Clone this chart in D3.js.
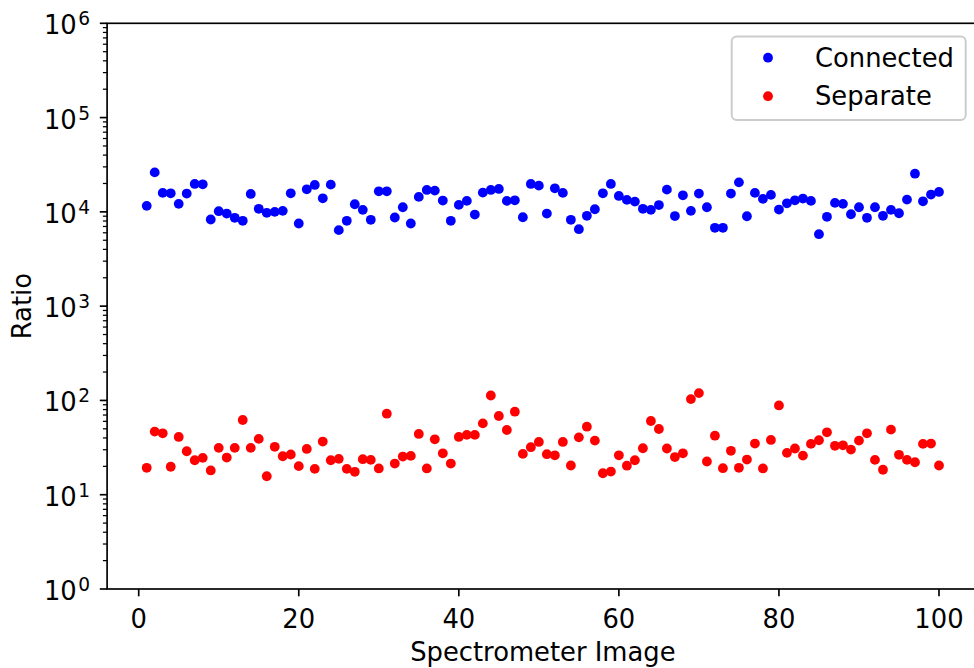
<!DOCTYPE html>
<html>
<head>
<meta charset="utf-8">
<script src="https://cdn.jsdelivr.net/npm/d3@7"></script>
<style>
  html, body { margin: 0; padding: 0; background: #fff; }
  svg { display: block; font-family: "DejaVu Sans", sans-serif; }
</style>
</head>
<body>
<svg id="chart" width="974" height="668"></svg>
<script>
// ---- data ----
const imageIndex = [1,2,3,4,5,6,7,8,9,10,11,12,13,14,15,16,17,18,19,20,
  21,22,23,24,25,26,27,28,29,30,31,32,33,34,35,36,37,38,39,40,
  41,42,43,44,45,46,47,48,49,50,51,52,53,54,55,56,57,58,59,60,
  61,62,63,64,65,66,67,68,69,70,71,72,73,74,75,76,77,78,79,80,
  81,82,83,84,85,86,87,88,89,90,91,92,93,94,95,96,97,98,99,100];

const connected = [11580, 26230, 15890, 15740, 12160, 15630, 19770, 19590, 8300, 10160,
  9600, 8650, 8040, 15500, 10770, 9770, 10000, 10250, 15730, 7530,
  17340, 19290, 13930, 19440, 6400, 8040, 12040, 10500, 8240, 16510,
  16510, 8710, 11190, 7530, 14410, 17090, 16800, 13180, 8040, 11860,
  13070, 9370, 16000, 17090, 17510, 13070, 13270, 8770, 19770, 18970,
  9600, 17780, 15890, 8240, 6550, 9080, 10660, 15730, 19770, 14760,
  13400, 12850, 10770, 10500, 11810, 17210, 9030, 14990, 10250, 15630,
  11190, 6780, 6780, 15630, 20560, 8990, 15890, 13730, 15140, 10580,
  12330, 13270, 13830, 13070, 5800, 8860, 12450, 12160, 9440, 11190,
  8650, 11190, 9080, 10500, 9670, 13490, 25400, 12940, 15250, 16280];

const separate = [19.3, 46.7, 44.8, 19.8, 41.0, 28.9, 23.2, 24.6, 18.1, 31.4,
  24.8, 31.4, 62.0, 31.4, 39.1, 15.7, 32.2, 25.6, 26.7, 20.1,
  30.6, 18.8, 36.6, 23.2, 24.0, 18.8, 17.5, 23.8, 23.4, 19.0,
  72.3, 21.4, 25.4, 25.8, 44.1, 19.0, 38.7, 27.5, 21.4, 41.0,
  43.1, 43.1, 57.1, 112.8, 68.4, 48.6, 75.9, 27.1, 31.9, 36.3,
  26.9, 26.2, 36.3, 20.4, 40.6, 52.7, 37.5, 16.9, 17.6, 26.2,
  20.3, 23.2, 31.1, 60.5, 49.8, 30.9, 25.1, 27.5, 103.3, 119.6,
  22.5, 42.3, 19.1, 29.2, 19.3, 23.6, 34.9, 19.0, 38.1, 88.5,
  27.8, 30.9, 26.0, 34.6, 37.8, 45.9, 33.0, 33.4, 30.1, 37.5,
  44.8, 23.4, 18.4, 49.0, 26.5, 23.4, 22.1, 34.6, 34.9, 20.4];

const seriesNames = ["Connected", "Separate"];
const seriesColors = ["#0000ff", "#ff0000"];
const xTickValues = [0, 20, 40, 60, 80, 100];
const yTickExponents = [0, 1, 2, 3, 4, 5, 6];
const xLabel = "Spectrometer Image";
const yLabel = "Ratio";

// ---- layout ----
const W = 974, H = 668;
const plot = { left: 107.1, right: 978.6, top: 23.3, bottom: 589 };
const FS = 25.8;

const svg = d3.select("#chart");

const x = d3.scaleLinear().domain([-3.95, 104.95]).range([plot.left, plot.right]);
const y = d3.scaleLog().domain([1, 1e6]).range([plot.bottom, plot.top]);

// ---- points ----
const series = [connected, separate];
series.forEach((vals, si) => {
  svg.append("g")
    .selectAll("circle")
    .data(vals.map((v, i) => ({ x: imageIndex[i], v })))
    .join("circle")
    .attr("cx", d => x(d.x))
    .attr("cy", d => y(d.v))
    .attr("r", 4.9)
    .attr("fill", seriesColors[si]);
});

// ---- spines ----
const spine = svg.append("g").attr("stroke", "#000").attr("stroke-width", 1.67).attr("fill", "none");
spine.append("rect")
  .attr("x", plot.left).attr("y", plot.top)
  .attr("width", plot.right - plot.left).attr("height", plot.bottom - plot.top)
  .attr("stroke-linejoin", "miter");

// ---- x axis ----
const xAxisG = svg.append("g");
xTickValues.forEach(t => {
  const px = x(t);
  xAxisG.append("line")
    .attr("x1", px).attr("x2", px)
    .attr("y1", plot.bottom).attr("y2", plot.bottom + 7.3)
    .attr("stroke", "#000").attr("stroke-width", 1.67);
  xAxisG.append("text")
    .attr("x", px).attr("y", plot.bottom + 39)
    .attr("text-anchor", "middle")
    .attr("font-size", FS)
    .attr("fill", "#000")
    .text(t);
});

// ---- y axis ----
const yAxisG = svg.append("g");
yTickExponents.forEach(e => {
  const py = y(Math.pow(10, e));
  yAxisG.append("line")
    .attr("x1", plot.left - 7.3).attr("x2", plot.left)
    .attr("y1", py).attr("y2", py)
    .attr("stroke", "#000").attr("stroke-width", 1.67);
  const t = yAxisG.append("text")
    .attr("x", plot.left - 17).attr("y", py + 11)
    .attr("text-anchor", "end")
    .attr("font-size", FS)
    .attr("fill", "#000");
  t.append("tspan").text("10");
  t.append("tspan").attr("font-size", FS * 0.72).attr("dy", -9).attr("dx", 1.5).text(e);
  // minor ticks
  if (e < 6) {
    for (let m = 2; m <= 9; m++) {
      const pm = y(m * Math.pow(10, e));
      yAxisG.append("line")
        .attr("x1", plot.left - 4.2).attr("x2", plot.left)
        .attr("y1", pm).attr("y2", pm)
        .attr("stroke", "#000").attr("stroke-width", 1.25);
    }
  }
});

// ---- axis labels ----
svg.append("text")
  .attr("x", (plot.left + plot.right) / 2)
  .attr("y", 661)
  .attr("text-anchor", "middle")
  .attr("font-size", FS)
  .attr("fill", "#000")
  .text(xLabel);

svg.append("text")
  .attr("transform", `translate(31,${(plot.top + plot.bottom) / 2}) rotate(-90)`)
  .attr("text-anchor", "middle")
  .attr("font-size", FS)
  .attr("fill", "#000")
  .text(yLabel);

// ---- legend ----
const lg = svg.append("g");
lg.append("rect")
  .attr("x", 731.7).attr("y", 36.5)
  .attr("width", 234).attr("height", 83.5)
  .attr("rx", 5).attr("ry", 5)
  .attr("fill", "#fff").attr("fill-opacity", 0.8)
  .attr("stroke", "#cccccc").attr("stroke-width", 2);
seriesNames.forEach((name, i) => {
  const cy = 57.7 + i * 38.5;
  lg.append("circle")
    .attr("cx", 768).attr("cy", cy).attr("r", 4.9)
    .attr("fill", seriesColors[i]);
  lg.append("text")
    .attr("x", 815).attr("y", cy + 9)
    .attr("font-size", FS)
    .attr("fill", "#000")
    .text(name);
});
</script>
</body>
</html>
